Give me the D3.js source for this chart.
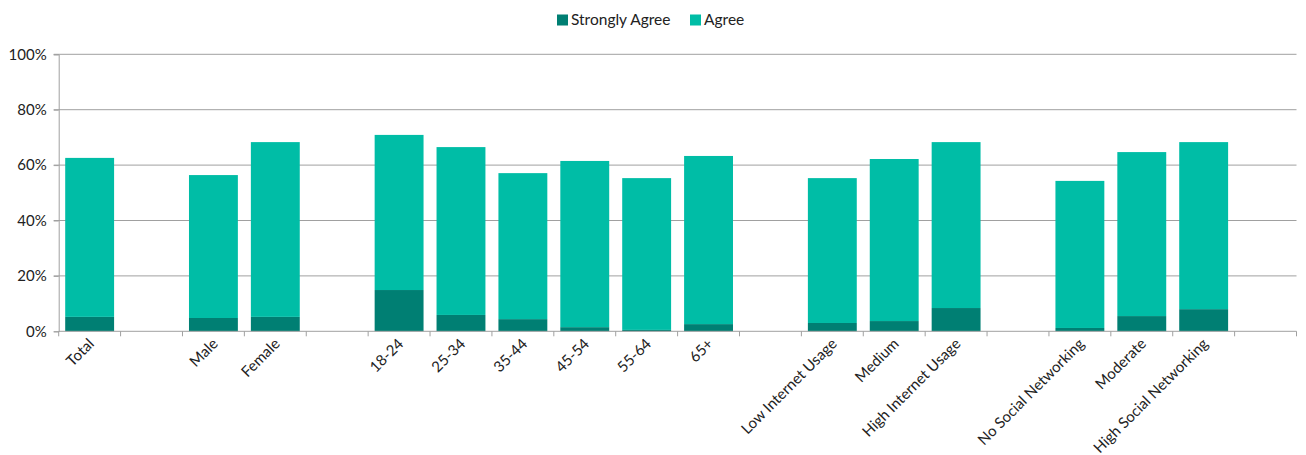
<!DOCTYPE html>
<html>
<head>
<meta charset="utf-8">
<script src="https://cdn.jsdelivr.net/npm/d3@7/dist/d3.min.js"></script>
<style>
  html, body { margin: 0; padding: 0; background: #fff; }
  svg { display: block; font-family: Lato, "Open Sans", sans-serif; }
</style>
</head>
<body>
<svg id="chart" width="1306" height="455"></svg>
<script>
// Categories (empty strings are spacer slots)
const categories = ["Total", "", "Male", "Female", "", "18-24", "25-34", "35-44", "45-54", "55-64", "65+", "",
  "Low Internet Usage", "Medium", "High Internet Usage", "", "No Social Networking", "Moderate", "High Social Networking", ""];
const slotIds = categories.map((c, i) => "c" + i);
// Values (percent); null for spacer slots
const stronglyAgree = [5.2, null, 4.8, 5.2, null, 14.9, 5.9, 4.4, 1.5, 0.5, 2.6, null, 3.0, 3.7, 8.4, null, 1.2, 5.5, 8.0, null];
const agree =         [57.4, null, 51.6, 63.1, null, 56.0, 60.6, 52.7, 60.0, 54.8, 60.7, null, 52.3, 58.5, 59.9, null, 53.1, 59.2, 60.3, null];
const seriesNames = ["Strongly Agree", "Agree"];
const seriesColors = ["#007f73", "#00bda6"];
const yTicks = [0, 20, 40, 60, 80, 100];

const svg = d3.select("#chart");
const W = 1306, H = 455;
const margin = { top: 54.3, right: 9.5, bottom: 455 - 331.3, left: 58.7 };
const iw = W - margin.left - margin.right;
const ih = H - margin.top - margin.bottom;
const g = svg.append("g").attr("transform", `translate(${margin.left},${margin.top})`);

const x = d3.scaleBand().domain(slotIds).range([0, iw]).paddingInner(0.21).paddingOuter(0.105);
const xb = d3.scaleBand().domain(slotIds).range([0, iw]).padding(0);
const y = d3.scaleLinear().domain([0, 100]).range([ih, 0]);

// Gridlines
g.append("g").selectAll("line").data(yTicks.filter(t => t > 0)).join("line")
  .attr("x1", -5).attr("x2", iw)
  .attr("y1", d => y(d)).attr("y2", d => y(d))
  .attr("stroke", "#a0a0a0").attr("stroke-width", 1);

// Stacked bars
const rows = categories.map((c, i) => ({ id: slotIds[i], sa: stronglyAgree[i], ag: agree[i] }))
  .filter(r => r.sa !== null);
const stack = d3.stack().keys(["sa", "ag"]);
const stacked = stack(rows);
g.append("g").selectAll("g").data(stacked).join("g")
  .attr("fill", (d, i) => seriesColors[i])
  .selectAll("rect").data(d => d).join("rect")
  .attr("x", d => x(d.data.id))
  .attr("width", x.bandwidth())
  .attr("y", d => y(d[1]))
  .attr("height", d => y(d[0]) - y(d[1]));

// Y axis
const yAxis = g.append("g").call(d3.axisLeft(y).tickValues(yTicks).tickFormat(d => d + "%").tickSize(5).tickPadding(7));
yAxis.select(".domain").attr("stroke", "#a0a0a0");
yAxis.selectAll(".tick line").attr("stroke", "#a0a0a0");
yAxis.selectAll("text").attr("font-size", 15).attr("fill", "#222").attr("font-family", "Lato, sans-serif");

// X axis line + ticks at boundaries
g.append("line").attr("x1", 0).attr("x2", iw).attr("y1", ih).attr("y2", ih).attr("stroke", "#a0a0a0");
const bounds = slotIds.map(id => xb(id)).concat([iw]);
g.append("g").selectAll("line").data(bounds).join("line")
  .attr("x1", d => d).attr("x2", d => d).attr("y1", ih).attr("y2", ih + 5)
  .attr("stroke", "#a0a0a0");

// X labels
g.append("g").selectAll("text").data(categories.map((c, i) => ({ c, id: slotIds[i] })).filter(d => d.c)).join("text")
  .attr("transform", d => `translate(${xb(d.id) + xb.bandwidth() / 2 - 2},${ih + 6}) rotate(-45)`)
  .attr("text-anchor", "end")
  .attr("dy", "0.7em")
  .attr("font-size", 15).attr("fill", "#222")
  .text(d => d.c);

// Legend
const legend = svg.append("g").attr("transform", "translate(557,20)");
const items = legend.selectAll("g").data(seriesNames).join("g")
  .attr("transform", (d, i) => `translate(${i === 0 ? 0 : 133},0)`);
items.append("rect").attr("x", 0).attr("y", -5.5).attr("width", 11).attr("height", 11)
  .attr("fill", (d, i) => seriesColors[i]);
items.append("text").attr("x", 14).attr("dy", "0.35em").attr("font-size", 15.5).attr("fill", "#222").text(d => d);
</script>
</body>
</html>
